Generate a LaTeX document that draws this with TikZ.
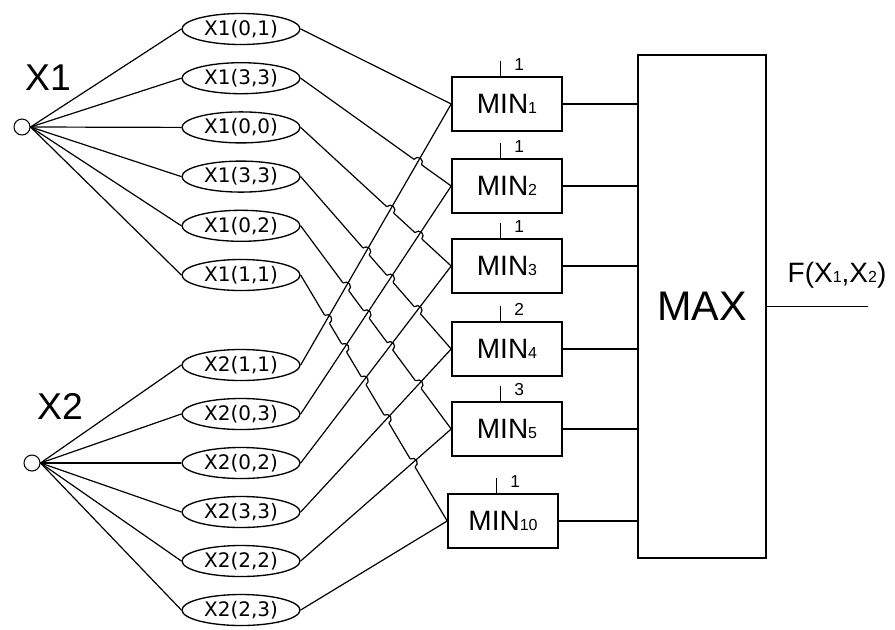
\documentclass[tikz,border=0pt]{standalone}
\usepackage{fontspec}
\setmainfont{Liberation Sans}
\newfontfamily\termfont{DejaVu Sans}
\usetikzlibrary{calc}
\usetikzlibrary{shapes.geometric}

\tikzset{
  invar/.style={circle, draw, line width=0.8pt, minimum size=12pt, inner sep=0pt},
  term/.style={ellipse, draw, line width=1pt, minimum width=88.5pt, minimum height=23.25pt, inner sep=0pt, font=\termfont\fontsize{15}{15}\selectfont},
  minbox/.style={draw, line width=1.2pt, minimum width=82.5pt, minimum height=40.5pt, inner sep=0pt, font=\fontsize{21}{21}\selectfont},
  wire/.style={line width=0.9pt},
}
\newcommand{\lowidx}[1]{{\fontsize{12}{12}\selectfont #1}}

\begin{document}
\begin{tikzpicture}[x=0.75pt, y=-0.75pt]
\useasboundingbox (0,0) rectangle (895,629);

\node[invar] (x1) at (22,127) {};
\node[invar] (x2) at (32,463) {};
\node[font=\fontsize{28}{28}\selectfont] (x1lab) at (48,78) {X1};
\node[font=\fontsize{28}{28}\selectfont] (x2lab) at (60,406) {X2};

\foreach \p/\q [count=\i] in {0/1,3/3,0/0,3/3,0/2,1/1}
  \node[term] (a\i) at (241,{29+49.2*(\i-1)}) {X1(\p,\q)};
\foreach \p/\q [count=\i] in {1/1,0/3,0/2,3/3,2/2,2/3}
  \node[term] (b\i) at (241,{365+49*(\i-1)}) {X2(\p,\q)};

\foreach \y/\k [count=\i] in {104/1,186/2,266/3,349/4,429/5}
  \node[minbox] (m\i) at (507,\y) {MIN\lowidx{\k}};
\node[minbox] (m6) at (503,521) {MIN\lowidx{10}};

\node[draw, line width=1.2pt, minimum width=96pt, minimum height=377.25pt, font=\fontsize{31}{31}\selectfont] (max) at (702,306.5) {MAX};
\coordinate (out) at (868,306.5);
\node[font=\fontsize{21}{21}\selectfont] (outlab) at (837,275) {F(X\lowidx{1},X\lowidx{2})};

% weights above the MIN boxes
\foreach \n [count=\i] in {1,1,1,2,3,1}{
  \draw[wire] ($(m\i.north west)+(49,0)$) coordinate (t\i) -- ++(0,-15);
  \node[font=\fontsize{13}{13}\selectfont] at ($(t\i)+(19,-12)$) {\n};
}

\foreach \i in {1,...,6}{
  \draw[wire] (x1.east) -- (a\i.west);
  \draw[wire] (x2.east) -- (b\i.west);
  \draw[wire] (m\i.east) -- (m\i.east -| max.west);
}
\draw[wire] (max.east) -- (out);

% X1 lines, cut where X2 lines cross
\foreach \i in {1,...,6}
  \draw[wire] (a\i.east) -- (m\i.west);
\foreach \i in {2,...,6}{
  \pgfmathtruncatemacro\last{\i-1}
  \foreach \j in {1,...,\last}{
    \coordinate (c\i\j) at (intersection cs: first line={(a\i.east)--(m\i.west)}, second line={(b\j.east)--(m\j.west)});
    \draw[white, line width=3pt] ($(c\i\j)!3.5pt!(a\i.east)$) -- ($(c\i\j)!3.5pt!(m\i.west)$);
  }
}
\foreach \j in {1,...,6}
  \draw[wire] (b\j.east) -- (m\j.west);
% hops
\foreach \i in {2,...,6}{
  \pgfmathtruncatemacro\last{\i-1}
  \foreach \j in {1,...,\last}
    \draw[wire] let \p1=($(m\i.west)-(a\i.east)$), \n1={atan2(\y1,\x1)} in
      ($(c\i\j)!3.5pt!(a\i.east)$) arc[start angle=\n1+180, end angle=\n1, radius=3.5pt];
}
\end{tikzpicture}
\end{document}
